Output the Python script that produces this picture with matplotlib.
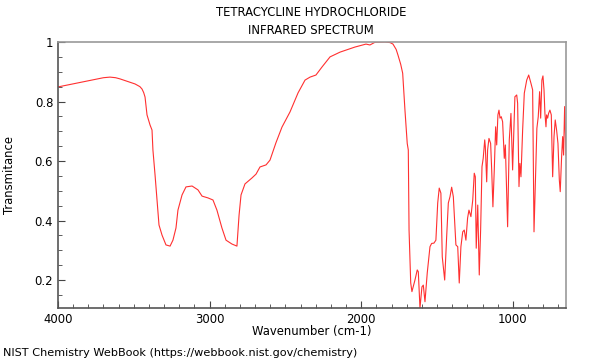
import matplotlib
matplotlib.use("Agg")
import matplotlib.pyplot as plt
from matplotlib.ticker import MultipleLocator

title_lines = ["TETRACYCLINE HYDROCHLORIDE", "INFRARED SPECTRUM"]
x_label = "Wavenumber (cm-1)"
y_label = "Transmitance"
footer = "NIST Chemistry WebBook (https://webbook.nist.gov/chemistry)"
x_ticks = [4000, 3000, 2000, 1000]
y_ticks = [0.2, 0.4, 0.6, 0.8, 1.0]
y_tick_labels = ["0.2", "0.4", "0.6", "0.8", "1"]

wavenumber = [
    4000, 3700, 3657, 3620, 3591, 3492, 3460, 3446, 3435, 3426, 3413, 3393, 3380, 3374, 3360, 3347, 3334,
    3314, 3288, 3261, 3242, 3222, 3209, 3182, 3156, 3116, 3077, 3050, 3011, 2978,
    2952, 2919, 2892, 2853, 2820, 2806, 2793, 2767, 2721, 2694, 2668, 2628, 2602,
    2563, 2523, 2470, 2417, 2371, 2338, 2299, 2259, 2206, 2140, 2042, 1969, 1943,
    1910, 1844, 1810, 1791, 1770, 1758, 1740, 1727, 1712, 1697, 1690, 1685, 1674, 1666, 1646, 1631,
    1624, 1613, 1600, 1591, 1580, 1565, 1547, 1536, 1521, 1508, 1496, 1486, 1475,
    1466, 1450, 1437, 1426, 1415, 1404, 1393, 1376, 1364, 1354, 1343, 1331, 1321,
    1310, 1299, 1290, 1277, 1265, 1255, 1248, 1242, 1232, 1222, 1213, 1204, 1196,
    1186, 1182, 1173, 1167, 1158, 1147, 1140, 1132, 1123, 1114, 1107, 1099, 1092,
    1085, 1077, 1068, 1057, 1050, 1041, 1035, 1024, 1013, 1002, 998, 987, 975,
    969, 960, 954, 947, 936, 925, 909, 896, 881, 870, 861, 850, 842, 833, 824,
    817, 809, 802, 795, 789, 782, 778, 771, 765, 756, 747, 738, 729, 721, 712,
    703, 694, 688, 679, 672, 666, 659, 650,
]
transmittance = [
    0.849, 0.880, 0.882, 0.880, 0.876, 0.859, 0.850, 0.842, 0.830, 0.815, 0.755, 0.721, 0.704, 0.637, 0.553,
    0.469, 0.385, 0.351, 0.318, 0.314, 0.334, 0.375, 0.435, 0.486, 0.513, 0.516,
    0.503, 0.482, 0.476, 0.469, 0.435, 0.375, 0.334, 0.321, 0.314, 0.418, 0.486,
    0.523, 0.543, 0.556, 0.580, 0.587, 0.603, 0.661, 0.714, 0.765, 0.829, 0.872,
    0.882, 0.889, 0.916, 0.950, 0.966, 0.983, 0.993, 0.990, 0.999, 1.000, 0.998, 0.993,
    0.975, 0.956, 0.925, 0.895, 0.771, 0.659, 0.637, 0.368, 0.190, 0.161, 0.200, 0.234, 0.228,
    0.106, 0.177, 0.183, 0.127, 0.224, 0.312, 0.323, 0.324, 0.334, 0.459, 0.509,
    0.492, 0.278, 0.200, 0.346, 0.459, 0.480, 0.512, 0.480, 0.318, 0.312, 0.190,
    0.312, 0.362, 0.368, 0.334, 0.408, 0.435, 0.413, 0.469, 0.559, 0.547, 0.307,
    0.452, 0.217, 0.368, 0.581, 0.609, 0.671, 0.648, 0.530, 0.637, 0.676, 0.659,
    0.570, 0.446, 0.570, 0.715, 0.654, 0.755, 0.771, 0.744, 0.749, 0.732, 0.609,
    0.654, 0.491, 0.379, 0.671, 0.760, 0.570, 0.637, 0.816, 0.822, 0.794, 0.514,
    0.592, 0.547, 0.704, 0.828, 0.872, 0.889, 0.861, 0.839, 0.362, 0.570, 0.710,
    0.749, 0.833, 0.744, 0.872, 0.886, 0.839, 0.760, 0.715, 0.755, 0.744, 0.760,
    0.771, 0.755, 0.547, 0.682, 0.738, 0.704, 0.659, 0.536, 0.497, 0.614, 0.682,
    0.620, 0.783, 0.620,
]

fig = plt.figure(figsize=(6, 3.6), dpi=100)
ax = fig.add_axes([58 / 600, 1 - 308 / 360, (566 - 58) / 600, (308 - 42) / 360])
ax.plot(wavenumber, transmittance, color="#ff3030", lw=0.8)
ax.set_xlim(4000, 650)
ax.set_ylim(0.106, 1.0)

ax.set_xticks(x_ticks)
ax.set_yticks(y_ticks)
ax.set_yticklabels(y_tick_labels)
ax.xaxis.set_minor_locator(MultipleLocator(100))
ax.yaxis.set_minor_locator(MultipleLocator(0.05))
ax.tick_params(which="both", direction="in", labelsize=8.4, color="#444444",
               top=False, right=False)
ax.tick_params(which="major", length=5, width=0.8)
ax.tick_params(which="minor", length=3, width=0.6)
for name, sp in ax.spines.items():
    sp.set_color("#999999")
    sp.set_linewidth(1.2)
ax.spines["left"].set_color("#555555")
ax.spines["bottom"].set_color("#555555")

fs = 8.4
fig.text(311 / 600, 1 - 13 / 360, title_lines[0], ha="center", va="center", fontsize=fs)
fig.text(311 / 600, 1 - 30 / 360, title_lines[1], ha="center", va="center", fontsize=fs)
fig.text(312 / 600, 1 - 331 / 360, x_label, ha="center", va="center", fontsize=fs)
fig.text(10 / 600, 1 - 175 / 360, y_label, ha="center", va="center", rotation=90, fontsize=fs)
fig.text(3 / 600, 1 - 353 / 360, footer, ha="left", va="center", fontsize=8.15)

fig.savefig("out.png", dpi=100)
